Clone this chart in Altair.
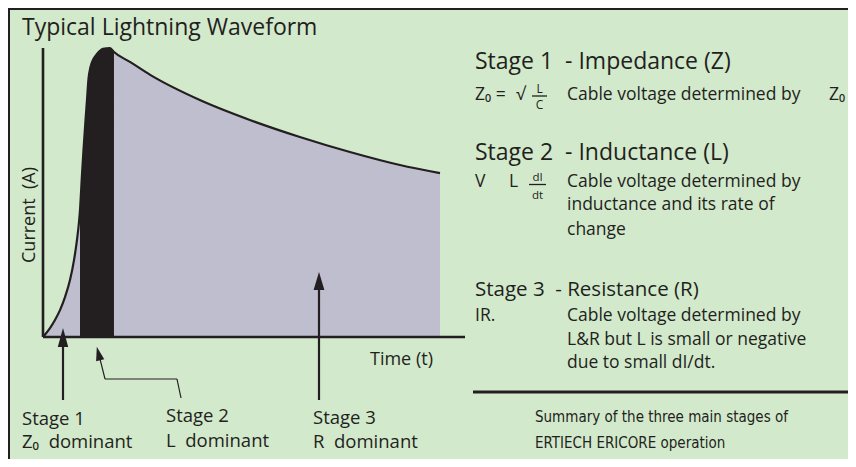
import altair as alt
import pandas as pd

# ---------------- data ----------------
# Waveform: time (arbitrary units, 0-100) vs current (% of peak)
time_vals = [0, 1.76, 3.02, 4.28, 5.54, 6.80, 7.81, 8.56, 9.07, 9.32, 9.82, 10.2, 10.71, 11.08,
             11.46, 11.96, 12.85, 13.6, 15.11, 16.88, 17.88, 21.9, 27.0, 39.5, 52.1, 64.7,
             77.3, 89.9, 100]
current_vals = [0, 3.1, 5.9, 9.3, 13.8, 19.7, 26.6, 33.6, 39.8, 43.9, 56.1, 64.7, 75.1, 82.0,
                89.3, 93.4, 96.5, 97.9, 99.7, 100, 98.6, 95.2, 90.7, 82.0, 75.1, 69.2,
                64.0, 59.5, 56.7]
stage_names = ["Stage 1", "Stage 2", "Stage 3"]
stage_bounds = [0, 9.32, 17.88, 100]        # time where each stage starts / ends
stage_colors = ["#bfbecf", "#231f20", "#bfbecf"]
axis_time_max = 106.3
axis_current_max = 100

# ---------------- build tables ----------------
wave = pd.DataFrame({"time": time_vals, "current": current_vals})
rows = []
for i, s in enumerate(stage_names):
    lo, hi = stage_bounds[i], stage_bounds[i + 1]
    for t, c in zip(time_vals, current_vals):
        if lo <= t <= hi:
            rows.append({"time": t, "current": c, "stage": s})
areas = pd.DataFrame(rows)
dummy = pd.DataFrame({"d": [0]})

OFF = 8  # page margin: reference pixel -> chart pixel
INK = "#231f20"
FONT = "Open Sans"
COND = "DejaVu Sans Condensed, Liberation Sans Narrow, Roboto Condensed, Roboto"
W, H = 840, 451
SP = "\u00a0"

xs = alt.Scale(domain=[0, 100], range=[43 - OFF, 440 - OFF])
ys = alt.Scale(domain=[0, 100], range=[337 - OFF, 48 - OFF])

layers = []

# border (top and left)
layers.append(alt.Chart(dummy).mark_rule(color=INK, strokeWidth=3).encode(
    x=alt.value(0), x2=alt.value(W), y=alt.value(0.5)))
layers.append(alt.Chart(dummy).mark_rule(color=INK, strokeWidth=3).encode(
    x=alt.value(0.5), y=alt.value(0), y2=alt.value(H)))

# stage areas
layers.append(alt.Chart(areas).mark_area(interpolate="monotone", opacity=1).encode(
    x=alt.X("time:Q", scale=xs, axis=None),
    y=alt.Y("current:Q", scale=ys, axis=None, stack=None),
    color=alt.Color("stage:N", scale=alt.Scale(domain=stage_names, range=stage_colors), legend=None),
    detail="stage:N",
))
# waveform outline
layers.append(alt.Chart(wave).mark_line(interpolate="monotone", color=INK, strokeWidth=2.2).encode(
    x=alt.X("time:Q", scale=xs, axis=None),
    y=alt.Y("current:Q", scale=ys, axis=None),
    order="time:Q",
))
# axes lines
layers.append(alt.Chart(dummy).mark_rule(color=INK, strokeWidth=2.6).encode(
    x=alt.datum(0, scale=xs), y=alt.datum(0, scale=ys), y2=alt.datum(axis_current_max)))
layers.append(alt.Chart(dummy).mark_rule(color=INK, strokeWidth=2.6).encode(
    y=alt.datum(0, scale=ys), x=alt.datum(0, scale=xs), x2=alt.datum(axis_time_max)))


def seg(x1, y1, x2, y2, w=2.0):
    return alt.Chart(dummy).mark_rule(color=INK, strokeWidth=w, strokeCap="butt").encode(
        x=alt.value(x1 - OFF), y=alt.value(y1 - OFF), x2=alt.value(x2 - OFF), y2=alt.value(y2 - OFF))


def head(x, y, length, halfw, angle=0):
    path = f"M0,-1L{halfw:.3f},1L{-halfw:.3f},1Z"
    return alt.Chart(dummy).mark_point(shape=path, filled=True, color=INK, opacity=1,
                                       size=length ** 2, angle=angle, strokeWidth=0).encode(
        x=alt.value(x - OFF), y=alt.value(y - OFF))


# arrows
layers += [seg(63, 346, 63, 400, 2.2), head(63, 337.5, 19, 0.55)]
layers += [seg(100, 359, 105, 379, 1.2), seg(105, 379, 177, 379, 1.2), seg(177, 379, 181, 398, 1.2),
           head(98.5, 353.5, 14, 0.6, 346)]
layers += [seg(319, 289, 319, 400, 2.2), head(319, 281, 18, 0.6)]

# right column separator
layers.append(seg(473, 392, 850, 392, 2.8))
# fraction bars
layers.append(seg(532, 96, 547, 96, 1.3))
layers.append(seg(529, 184.5, 546, 184.5, 1.3))


def txt(s, x, y, size, align="left", angle=0, font=FONT):
    return alt.Chart(dummy).mark_text(text=s, font=font, fontSize=size, color=INK, align=align,
                                      baseline="alphabetic", angle=angle).encode(
        x=alt.value(x - OFF), y=alt.value(y - OFF))


layers += [
    txt("Typical Lightning Waveform", 22, 35, 23),
    txt("Current" + SP + SP + "(A)", 35, 215, 18, align="center", angle=270),
    txt("Time (t)", 370, 365, 18),
    txt("Stage 1", 22, 425, 18.5), txt("Z\u2080" + SP + SP + "dominant", 22, 448, 18.5),
    txt("Stage 2", 166, 422, 18.5), txt("L" + SP + SP + "dominant", 166, 447, 18.5),
    txt("Stage 3", 313, 424, 18.5), txt("R" + SP + SP + "dominant", 313, 448, 18.5),
    # right column
    txt("Stage 1" + SP + SP + "- Impedance (Z)", 475, 69, 23),
    txt("Z\u2080 =", 475, 100, 17.5),
    txt("\u221a", 516, 100, 17.5),
    txt("L", 539.5, 93, 12, align="center"), txt("C", 539.5, 109, 12, align="center"),
    txt("Cable voltage determined by", 567, 100, 17.5),
    txt("Z\u2080", 829, 100, 17.5),
    txt("Stage 2" + SP + SP + "- Inductance (L)", 475, 160, 23),
    txt("V", 475, 187, 17.5), txt("L", 509, 187, 17.5),
    txt("dI", 537.5, 181, 11.5, align="center"), txt("dt", 537.5, 198.5, 11.5, align="center"),
    txt("Cable voltage determined by", 567, 187, 17.5),
    txt("inductance and its rate of", 567, 210, 17.5),
    txt("change", 567, 235, 17.5),
    txt("Stage 3" + SP + SP + "- Resistance (R)", 475, 296, 20.5),
    txt("IR.", 475, 321, 17.5),
    txt("Cable voltage determined by", 567, 321, 17.5),
    txt("L&R but L is small or negative", 567, 345, 17.5),
    txt("due to small dI/dt.", 567, 368, 17.5),
    txt("Summary of the three main stages of", 535, 422, 15, font=COND),
    txt("ERTIECH ERICORE operation", 535, 448, 15, font=COND),
]

chart = alt.layer(*layers).properties(
    width=W, height=H, padding=0, background="#d2e9cc",
    autosize=alt.AutoSizeParams(type="none"),
).configure_view(stroke=None).resolve_scale(color="independent")

chart.save("out.html", embed_options={"renderer": "svg", "actions": False})
